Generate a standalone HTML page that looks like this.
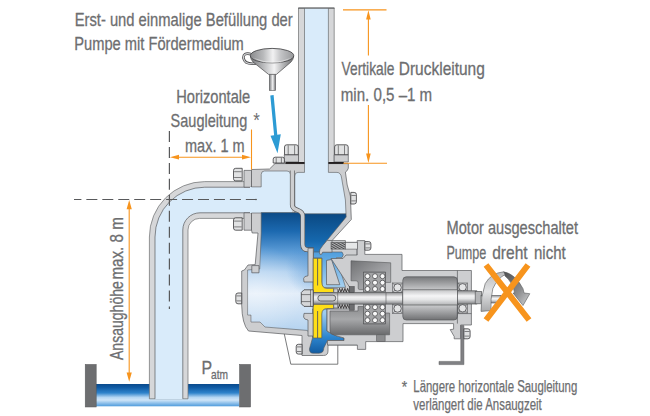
<!DOCTYPE html>
<html lang="de"><head><meta charset="utf-8"><title>Selbstansaugende Pumpe</title>
<style>
html,body{margin:0;padding:0;background:#fff;overflow:hidden}
svg{display:block}
text{font-family:"Liberation Sans",sans-serif;fill:#6d6e70}
.g{fill:#cdced0;stroke:#58595b;stroke-width:.7;stroke-linejoin:round}
.p{fill:#d6d7d9;stroke:#6d6e70;stroke-width:.7;stroke-linejoin:round}
.o{stroke:#f7941d;stroke-width:1.1;fill:none}
.of{fill:#f7941d}
.d{stroke:#58595b;stroke-width:1.2;fill:none;stroke-dasharray:11 4.95}
.air{fill:#d9ebfa}
</style></head><body>
<svg width="650" height="416" viewBox="0 0 650 416">
<defs>
<linearGradient id="wMain" x1="0" y1="212" x2="0" y2="332" gradientUnits="userSpaceOnUse">
<stop offset="0" stop-color="#0b4a86"/><stop offset=".16" stop-color="#1c69b0"/><stop offset=".33" stop-color="#5b9bd6"/><stop offset=".5" stop-color="#b3d2f0"/><stop offset=".68" stop-color="#e2edf9"/><stop offset="1" stop-color="#b3d2ef"/>
</linearGradient>
<radialGradient id="wMainH" cx="256" cy="292" r="48" gradientUnits="userSpaceOnUse">
<stop offset="0" stop-color="#ffffff" stop-opacity=".38"/><stop offset=".5" stop-color="#ffffff" stop-opacity=".18"/><stop offset="1" stop-color="#ffffff" stop-opacity="0"/>
</radialGradient>
<radialGradient id="wMainB" cx="316" cy="268" r="30" gradientUnits="userSpaceOnUse">
<stop offset="0" stop-color="#3f88cf" stop-opacity=".45"/><stop offset="1" stop-color="#3f88cf" stop-opacity="0"/>
</radialGradient>
<linearGradient id="wR" x1="0" y1="213" x2="0" y2="260" gradientUnits="userSpaceOnUse">
<stop offset="0" stop-color="#0a4882"/><stop offset=".6" stop-color="#1668ae"/><stop offset="1" stop-color="#3d93d8"/>
</linearGradient>
<linearGradient id="wBack" x1="0" y1="250" x2="0" y2="356" gradientUnits="userSpaceOnUse">
<stop offset="0" stop-color="#4a9bdc"/><stop offset=".35" stop-color="#a5d0f0"/><stop offset=".6" stop-color="#9ccbee"/><stop offset=".82" stop-color="#2e86cf"/><stop offset="1" stop-color="#0d5499"/>
</linearGradient>
<linearGradient id="wTank" x1="0" y1="384" x2="0" y2="406.3" gradientUnits="userSpaceOnUse">
<stop offset="0" stop-color="#0a4a8c"/><stop offset=".15" stop-color="#0f5aa3"/><stop offset=".4" stop-color="#2f83cb"/><stop offset=".6" stop-color="#b5d6f3"/><stop offset=".72" stop-color="#cfe5f8"/><stop offset="1" stop-color="#4f9bdc"/>
</linearGradient>
<linearGradient id="drum" x1="0" y1="276.8" x2="0" y2="320" gradientUnits="userSpaceOnUse">
<stop offset="0" stop-color="#77787a"/><stop offset=".3" stop-color="#c6c7c9"/><stop offset=".66" stop-color="#c9cacc"/><stop offset="1" stop-color="#707173"/>
</linearGradient>
<linearGradient id="shaft" x1="0" y1="0" x2="0" y2="1">
<stop offset="0" stop-color="#909193"/><stop offset=".38" stop-color="#f3f3f4"/><stop offset=".6" stop-color="#e4e5e6"/><stop offset="1" stop-color="#808184"/>
</linearGradient>
<linearGradient id="rotor" x1="0" y1="0" x2="0" y2="1">
<stop offset="0" stop-color="#c3c4c6"/><stop offset=".4" stop-color="#f5f5f6"/><stop offset=".65" stop-color="#e4e5e6"/><stop offset="1" stop-color="#b4b5b7"/>
</linearGradient>
<linearGradient id="chamber" x1="0" y1="0" x2="1" y2="1">
<stop offset="0" stop-color="#707173"/><stop offset=".55" stop-color="#9fa0a3"/><stop offset="1" stop-color="#b4b5b7"/>
</linearGradient>
<linearGradient id="chamber2" x1="0" y1="0" x2="0" y2="1">
<stop offset="0" stop-color="#8a8b8d"/><stop offset=".45" stop-color="#a7a8aa"/><stop offset="1" stop-color="#6a6b6d"/>
</linearGradient>
<pattern id="hatch" width="2" height="2" patternUnits="userSpaceOnUse" patternTransform="rotate(-60)">
<rect width="2" height="2" fill="#b4b5b7"/><rect width="1" height="2" fill="#4a4a4c"/>
</pattern>
<linearGradient id="funnel" x1="0" y1="0" x2="1" y2="0">
<stop offset="0" stop-color="#77787b"/><stop offset=".3" stop-color="#b9babc"/><stop offset=".55" stop-color="#f3f3f4"/><stop offset=".8" stop-color="#a6a7a9"/><stop offset="1" stop-color="#6d6e70"/>
</linearGradient>
<linearGradient id="funnelIn" x1="0" y1="0" x2="1" y2="0">
<stop offset="0" stop-color="#8a8b8d"/><stop offset=".3" stop-color="#b9babc"/><stop offset=".52" stop-color="#f1f1f2"/><stop offset=".7" stop-color="#c3c4c6"/><stop offset="1" stop-color="#97989a"/>
</linearGradient>
<linearGradient id="arrF" x1="0" y1="0" x2="0" y2="1">
<stop offset="0" stop-color="#b9babc"/><stop offset=".5" stop-color="#e2e3e4"/><stop offset="1" stop-color="#a8a9ab"/>
</linearGradient>
<linearGradient id="arrB" x1="0" y1="0" x2="1" y2="1">
<stop offset="0" stop-color="#4d4e50"/><stop offset=".6" stop-color="#8e8f91"/><stop offset="1" stop-color="#d4d5d6"/>
</linearGradient>
</defs>
<rect width="650" height="416" fill="#fff"/>

<!-- TANK -->
<g id="tank">
<rect x="96" y="384" width="143.5" height="22.3" fill="url(#wTank)"/>
<rect x="85.2" y="364.4" width="11" height="42.6" fill="#6d6e70" stroke="#58595b" stroke-width=".5"/>
<rect x="239.5" y="364.4" width="11.1" height="42.6" fill="#6d6e70" stroke="#58595b" stroke-width=".5"/>
</g>

<!-- SUCTION PIPE -->
<g id="suction">
<path class="p" d="M149.4,398.8 L149.4,237 A55.4,55.4 0 0 1 204.8,181.6 L252,181.6 L252,218.4 L199.5,218.4 A11.5,11.5 0 0 0 188,229.9 L188,398.8 Z"/>
<path class="air" d="M155,399.2 L155,237 A49.8,49.8 0 0 1 204.8,187.2 L262,187.2 L262,212.8 L200,212.8 A17.2,17.2 0 0 0 182.8,230 L182.8,399.2 Z"/>
<path d="M155,398.8 L155,237 A49.8,49.8 0 0 1 204.8,187.2 L252,187.2 M252,212.8 L200,212.8 A17.2,17.2 0 0 0 182.8,230 L182.8,398.8" fill="none" stroke="#58595b" stroke-width=".7"/>
</g>
<rect class="g" x="244" y="170.4" width="7.5" height="16.8"/>
<rect class="g" x="244" y="212.8" width="7.5" height="17.4"/>

<!-- DISCHARGE PIPE -->
<g id="discharge">
<rect class="p" x="298.5" y="8" width="35.7" height="155"/>
<rect class="g" x="284.3" y="154.7" width="14.2" height="7.3"/>
<rect class="g" x="334.2" y="154.7" width="14.1" height="7.3"/>
</g>

<!-- PUMP CASING -->
<g id="casing">
<!-- foot -->
<path d="M284.3,334 L290.8,364.2 L337.8,364.2 L337.8,345.2" fill="#fff" stroke="#58595b" stroke-width=".8"/>
<path class="g" d="M251.5,169.5 L269.5,169 L275,163.6 L348.3,163.6 L348.3,168.2 Q347.6,171 345.4,172 L347.2,185 L350.4,196 L351.3,219.5 L332,240.6 L345.4,240.6 L345.4,242.3 L357,242.3 L357,345 L328,345 L328,351 Q328,355.5 323.5,355.5 L302,355.5 L302,335.5 L248.5,331 Q242,324 241.7,305 L241.7,271 L244.4,270 L248,265 L255.2,264.6 L258,233 L252.2,233 L251.5,230 Z"/>
<!-- air spaces -->
<path class="air" d="M250,186.9 L261.2,186.9 L261.2,174.5 Q261.2,171 264.5,171 L287,171 Q291,171 291,174 L292,213 L250,213 Z"/>
<path class="air" d="M294.8,176 Q294.8,172.4 298,172.4 L304.5,172.4 L304.5,164 L328.4,164 L328.4,172.4 L337,172.4 Q341,172.6 341.6,178 L345.4,200 L346,214 L294.8,214 Z"/>
<rect class="air" x="304.5" y="8.4" width="23.9" height="156"/>
<g fill="none" stroke="#58595b" stroke-width=".6">
<path d="M251.5,186.9 L261.2,186.9 L261.2,174.5 Q261.2,171 264.5,171 L287,171 Q290.4,171 290.4,174"/>
<path d="M251.5,213 L261.4,213"/>
<path d="M294.8,213 L294.8,176 Q294.8,172.4 298,172.4 L304.5,172.4 L304.5,8.4"/>
<path d="M328.4,8.4 L328.4,172.4 L337,172.4 Q341,172.6 341.6,178 L345.4,200 L346,214"/>
</g>
<path d="M298.2,8.1 L334.5,8.1" stroke="#58595b" stroke-width="1" fill="none"/>
<rect x="285.5" y="162" width="19" height="1.9" fill="#231f20"/>
<rect x="328.4" y="162" width="15.4" height="1.9" fill="#231f20"/>
<!-- water main chamber -->
<path d="M261.2,212.6 L299,212.6 L303,218 L303,250 L313,250 L313,336 L307,330.4 L265,327 L260,322 L251,322 L251,315 L247.6,315 L247.6,270 L259.8,269 L261.2,233 Z" fill="url(#wMain)" stroke="#58595b" stroke-width=".6"/>
<path d="M261.2,234 L303,234 L303,250 L313,250 L313,336 L307,330.4 L265,327 L260,322 L251,322 L251,315 L247.6,315 L247.6,270 L259.8,269 Z" fill="url(#wMainH)"/>
<path d="M280,234 L303,234 L303,250 L313,250 L313,300 L280,300 Z" fill="url(#wMainB)"/>
<rect class="g" x="251.8" y="265.6" width="7.2" height="7.2"/>
<!-- water right chamber -->
<path d="M303,213.8 L346,213.8 L346.2,217 L326.8,240.6 L323,247 L322,259 L313.5,259 L313.5,248 L303,248 Z" fill="url(#wR)" stroke="#58595b" stroke-width=".6"/>
<!-- back cavity -->
<path d="M313.5,252 L342,252 Q344.6,254.8 342,257.6 L336.5,257.6 L345.6,287.4 L321.8,287.4 L321.8,258 L313.5,258 Z" fill="url(#wBack)" stroke="#58595b" stroke-width=".6"/>
<path d="M321.4,309 L327,309 L327,331 Q334,336 344,338 L344,340.5 L327.5,340.5 L323.8,348 Q323.8,353.2 319,353.2 L313,353.2 Q309.4,353.2 309.4,349 L312.5,338 L312.5,309 Z" fill="url(#wBack)" stroke="#58595b" stroke-width=".6"/>
<path class="g" d="M326.5,260.4 L331.5,259.5 L339.8,284.7 L326.5,284.7 Z"/>
<path class="g" d="M327.2,240.3 Q322,246 320,249.4 Q318.6,252.6 320.2,254.6 Q322,255 322.6,252.2 L332,252.2 L332,240.6 Z"/>
<!-- divider wall -->
<path d="M292.3,170.5 L292.3,205 C292.3,212 302.7,208 302.7,216 L302.7,244 Q302.7,249.8 308,249.8 L313.6,249.8" fill="none" stroke="#58595b" stroke-width="4.8"/>
<path d="M292.3,170 L292.3,205 C292.3,212 302.7,208 302.7,216 L302.7,244 Q302.7,249.8 308,249.8 L313.2,249.8" fill="none" stroke="#cdced0" stroke-width="3.5"/>
<!-- front wall with lips -->
<path class="g" d="M308,248.2 L313.3,248.2 L313.3,282 L304,282 L303.6,278.5 Q304,276 308,275.8 Z"/>
<path class="g" d="M308,336 L313.3,336 L313.3,313.4 L304,313.4 L303.6,317 Q304,319.6 308,320 Z"/>
</g>

<!-- IMPELLER -->
<g id="impeller" fill="#ffde17" stroke="#58595b" stroke-width=".7">
<path d="M313.2,258.3 L321.8,258.3 L321.8,282 Q322,288.4 327,288.4 L333.7,288.4 L333.7,292.6 L313.2,292.6 Z"/>
<path d="M313.2,304.2 L333.7,304.2 L333.7,308.6 L327,308.6 Q322,308.6 321.8,314 L321.8,338 L313.2,338 Z"/>
<path d="M317.6,258.3 L317.6,285.5 M317.6,311 L317.6,338" stroke-width=".9" fill="none"/>
</g>

<!-- BRACKET / BEARING HOUSING -->
<g id="bracket">
<path class="g" d="M331,258.5 L343,258.5 L346,255 L357.2,255 L357.2,240.6 L364.8,240.6 L364.8,254.4 L402,254.4 L402,270.5 L471.4,270.5 L471.4,325 L460.6,325 L460.6,338.8 L454.2,338.8 L454.2,336.5 L450.2,329.6 L453.6,329.2 L453.6,323.6 L403,323.6 L403,341.6 L365.7,341.6 L365.7,349.4 L357.4,349.4 L357.4,345 L327.5,345 L327.5,340.5 L344,340.5 L344,338 Q334,336 327,331 L327,309 L349.5,309 L349.5,287 Z"/>
<!-- dark chambers -->
<path d="M351,260.8 L390.7,262.8 L390.7,282.4 L385.4,282.4 L385.4,272.2 L363.6,272.2 L363.6,289.6 L359.6,289.6 Q358.2,289.6 358.2,288 L358.2,283 Q358.2,280.8 356,280.8 L351,280.8 Z" fill="url(#chamber)" stroke="#58595b" stroke-width=".6"/>
<path d="M330,311 L358,311 L358,306.5 L363.6,306.5 L363.6,323.8 L385.4,323.8 L385.4,313 L389.6,313 L389.6,334.8 L334,334.8 Q330,334.8 330,331 Z" fill="url(#chamber2)" stroke="#58595b" stroke-width=".6"/>
<rect x="376.7" y="334.8" width="8.4" height="6.8" fill="#8b8c8e" stroke="#58595b" stroke-width=".6"/>
<!-- ball grids -->
<rect x="363.6" y="272.2" width="21.8" height="19.8" fill="#a4a5a7" stroke="#58595b" stroke-width=".7"/>
<rect x="363.6" y="304.2" width="21.8" height="19.6" fill="#a4a5a7" stroke="#58595b" stroke-width=".7"/>
<g fill="#fafafa" stroke="#4a4a4c" stroke-width=".8">
<circle cx="367.5" cy="276.2" r="2.5"/>
<circle cx="375" cy="276.2" r="2.5"/>
<circle cx="382.5" cy="276.2" r="2.5"/>
<circle cx="367.5" cy="282.7" r="2.5"/>
<circle cx="375" cy="282.7" r="2.5"/>
<circle cx="382.5" cy="282.7" r="2.5"/>
<circle cx="367.5" cy="289.0" r="2.5"/>
<circle cx="375" cy="289.0" r="2.5"/>
<circle cx="382.5" cy="289.0" r="2.5"/>
<circle cx="367.5" cy="307.2" r="2.5"/>
<circle cx="375" cy="307.2" r="2.5"/>
<circle cx="382.5" cy="307.2" r="2.5"/>
<circle cx="367.5" cy="313.7" r="2.5"/>
<circle cx="375" cy="313.7" r="2.5"/>
<circle cx="382.5" cy="313.7" r="2.5"/>
<circle cx="367.5" cy="320.2" r="2.5"/>
<circle cx="375" cy="320.2" r="2.5"/>
<circle cx="382.5" cy="320.2" r="2.5"/>
</g>
<!-- motor drum -->
<rect x="402.8" y="276.8" width="54.6" height="43.2" rx="3.5" fill="url(#drum)" stroke="#58595b" stroke-width=".7"/>
<path d="M457.4,270.5 L457.4,323.6 M457.4,313.6 L471.4,313.6" stroke="#58595b" stroke-width=".7" fill="none"/>
<!-- bearings -->
<g fill="#c9cacc" stroke="#58595b" stroke-width=".6">
<rect x="392.6" y="283" width="10" height="9.4"/><rect x="392.6" y="304" width="10" height="9.4"/>
<rect x="458" y="283" width="9.6" height="8"/><rect x="458" y="304" width="9.6" height="9"/>
</g>
<path d="M392.6,283 l10,9.4 m0,-9.4 l-10,9.4 M392.6,304 l10,9.4 m0,-9.4 l-10,9.4 M458,283 l9.6,8 m0,-8 l-9.6,8 M458,304 l9.6,9 m0,-9 l-9.6,9" stroke="#58595b" stroke-width=".6" fill="none"/>
<g fill="#e4e5e6" stroke="#3b3b3d" stroke-width=".7">
<circle cx="397.6" cy="287.5" r="3.7"/><circle cx="397.6" cy="308.5" r="3.7"/>
<circle cx="462.6" cy="287.3" r="3.7"/><circle cx="462.6" cy="308.3" r="3.7"/>
</g>
</g>

<!-- SHAFT -->
<g id="shaftg">
<rect x="313.2" y="292.6" width="89.6" height="11.5" fill="url(#shaft)" stroke="#58595b" stroke-width=".7"/>
<rect x="402.8" y="289.8" width="54.6" height="15.2" fill="url(#rotor)" stroke="#58595b" stroke-width=".7"/>
<rect x="457.4" y="290.8" width="19.4" height="13.2" fill="url(#shaft)" stroke="#58595b" stroke-width=".7"/>
<path d="M337.7,292.6 L337.7,304.2 M386,292.6 L386,304.1" stroke="#58595b" stroke-width=".6" fill="none"/>
<rect x="475.2" y="291.4" width="6.4" height="12.4" fill="#b4b5b7" stroke="#58595b" stroke-width=".7"/>
<rect x="481" y="295.4" width="20" height="7.6" fill="url(#shaft)" stroke="#58595b" stroke-width=".6"/>
<!-- seal seats -->
<rect class="g" x="333.7" y="288.8" width="4" height="3.8"/>
<rect class="g" x="333.7" y="304.2" width="4" height="3.8"/>
<!-- seal springs -->
<path d="M338.2,292.2 l1.35,-3.8 l1.35,3.8 l1.35,-3.8 l1.35,3.8 l1.35,-3.8 l1.35,3.8 l1.35,-3.8 l1.35,3.8" fill="none" stroke="#231f20" stroke-width=".8"/>
<path d="M338.2,308.4 l1.35,-3.8 l1.35,3.8 l1.35,-3.8 l1.35,3.8 l1.35,-3.8 l1.35,3.8 l1.35,-3.8 l1.35,3.8" fill="none" stroke="#231f20" stroke-width=".8"/>
<rect x="349.6" y="286.6" width="4.6" height="6" fill="#6d6e70" stroke="#3b3b3d" stroke-width=".5"/>
<rect x="349.6" y="304.2" width="4.6" height="6" fill="#6d6e70" stroke="#3b3b3d" stroke-width=".5"/>
<!-- nut -->
<path d="M313.2,289.8 L304,289.8 L301.3,292.5 L301.3,303.7 L304,306.4 L313.2,306.4 Z" fill="#d5d6d8" stroke="#3b3b3d" stroke-width=".8"/>
<path d="M310.6,289.8 L310.6,306.4 M301.3,294.6 L310.6,294.6 M301.3,301.6 L310.6,301.6" stroke="#3b3b3d" stroke-width=".6" fill="none"/>
<!-- keyway -->
<rect x="317.8" y="295.2" width="18" height="5.8" rx="2.9" fill="#cfd0d2" stroke="#3b3b3d" stroke-width=".7"/>
</g>

<!-- STUD top -->
<g id="stud">
<rect x="331" y="242.3" width="14.4" height="6.8" fill="url(#hatch)" stroke="#58595b" stroke-width=".6"/>
<rect x="345.4" y="242.3" width="12" height="6.8" fill="#e6e7e8" stroke="#58595b" stroke-width=".6"/>
</g>

<!-- BRACKET SUPPORT -->
<path d="M460.8,325.6 L463.9,325.6 L463.9,364.6 L439,364.6 L439,361.4 L460.8,361.4 Z" fill="#808184" stroke="#58595b" stroke-width=".5"/>

<!-- BOLTS -->
<g id="bolts" fill="#e1e2e3" stroke="#3b3b3d" stroke-width=".8">
<path d="M242.2,168.3 L235.7,168.3 Q233.5,168.3 233.5,170.5 L233.5,178.7 Q233.5,180.9 235.7,180.9 L242.2,180.9 Z"/><path d="M234.1,171.7 L241.6,171.7 M234.1,177.5 L241.6,177.5" fill="none" stroke-width=".6"/>
<path d="M242.2,217.8 L235.7,217.8 Q233.5,217.8 233.5,220 L233.5,228 Q233.5,230.2 235.7,230.2 L242.2,230.2 Z"/><path d="M234.1,221.1 L241.6,221.1 M234.1,226.9 L241.6,226.9" fill="none" stroke-width=".6"/>
<path d="M284.5,154.7 L284.5,147 Q284.5,144.8 286.7,144.8 L296.1,144.8 Q298.3,144.8 298.3,147 L298.3,154.7 Z"/><path d="M288.2,145.4 L288.2,154.7 M294.6,145.4 L294.6,154.7" fill="none" stroke-width=".6"/>
<path d="M334.6,154.7 L334.6,147 Q334.6,144.8 336.8,144.8 L346,144.8 Q348.2,144.8 348.2,147 L348.2,154.7 Z"/><path d="M338.3,145.4 L338.3,154.7 M344.5,145.4 L344.5,154.7" fill="none" stroke-width=".6"/>
<path d="M273.2,163 L273.2,159.2 Q273.2,157.2 275.2,157.2 L282.4,157.2 Q284.4,157.2 284.4,159.2 L284.4,163 Z"/><path d="M276.2,157.8 L276.2,163 M281.4,157.8 L281.4,163" fill="none" stroke-width=".6"/>
<path d="M350.8,192.4 L354.2,192.4 Q356.4,192.4 356.4,194.6 L356.4,201.8 Q356.4,204 354.2,204 L350.8,204 Z"/><path d="M351.4,195.5 L355.8,195.5 M351.4,200.9 L355.8,200.9" fill="none" stroke-width=".6"/>
<path d="M302,344.3 L298.4,344.3 Q296.2,344.3 296.2,346.5 L296.2,351.9 Q296.2,354.1 298.4,354.1 L302,354.1 Z"/><path d="M296.8,346.9 L301.4,346.9 M296.8,351.5 L301.4,351.5" fill="none" stroke-width=".6"/>
<path d="M241.7,293 L238,293 Q235.8,293 235.8,295.2 L235.8,301.6 Q235.8,303.8 238,303.8 L241.7,303.8 Z"/><path d="M236.4,295.9 L241.1,295.9 M236.4,300.9 L241.1,300.9" fill="none" stroke-width=".6"/>
<path d="M364.9,241.6 L368.7,241.6 Q370.9,241.6 370.9,243.8 L370.9,248 Q370.9,250.2 368.7,250.2 L364.9,250.2 Z"/><path d="M365.5,243.9 L370.3,243.9 M365.5,247.9 L370.3,247.9" fill="none" stroke-width=".6"/>
<path d="M463.9,328.8 L467.9,328.8 Q470.1,328.8 470.1,331 L470.1,336.6 Q470.1,338.8 467.9,338.8 L463.9,338.8 Z"/><path d="M464.5,331.5 L469.5,331.5 M464.5,336.1 L469.5,336.1" fill="none" stroke-width=".6"/>
</g>

<!-- FUNNEL -->
<g id="funnelg">
<path d="M251.5,54.2 Q242.6,52 243.6,58.6 Q244.8,64.6 255,63.6" fill="none" stroke="#4a4a4c" stroke-width="2.6" stroke-linecap="round"/>
<path d="M251.5,54.2 Q242.6,52 243.6,58.6 Q244.8,64.6 255,63.6" fill="none" stroke="#d0d1d3" stroke-width="1.1" stroke-linecap="round"/>
<rect x="269.3" y="72" width="6.3" height="18.5" fill="url(#funnel)" stroke="#58595b" stroke-width=".6"/>
<path d="M250.4,56 L293.7,56 Q293.4,59.5 291,62 L276.4,74.4 L268.6,74.4 L253,62 Q250.6,59.5 250.4,56 Z" fill="url(#funnel)" stroke="#4a4a4c" stroke-width=".7"/>
<ellipse cx="272.05" cy="55.7" rx="21.7" ry="7.3" fill="url(#funnelIn)" stroke="#4a4a4c" stroke-width=".9"/>
<path d="M252.6,57.5 Q272,70 291.6,57.5 Q272,66 252.6,57.5 Z" fill="#ffffff" fill-opacity=".45"/>
</g>

<!-- BLUE ARROW -->
<path d="M270.3,95.4 L273.6,95.1 L277.3,134.7 L280.8,134.2 L277.5,153.2 L270.5,135.7 L274.1,135.2 Z" fill="#2c9bd4"/>

<!-- DASHED LINES -->
<path class="d" d="M74,199.5 L258,199.5" stroke-dashoffset="3.6"/>
<path class="d" d="M169.4,131 L169.4,309"/>

<!-- ORANGE DIMENSIONS -->
<g id="dims">
<path class="o" d="M251.5,129.5 L251.5,169.6"/>
<path class="o" d="M175,157.2 L246,157.2"/>
<path class="of" d="M169.9,157.2 L179,154.8 L179,159.6 Z M251,157.2 L242,154.8 L242,159.6 Z"/>
<path class="o" d="M343,9.9 L386.5,9.9 M343.4,163.2 L387,163.2"/>
<path class="o" d="M368.4,16 L368.4,55.5 M368.4,105 L368.4,157"/>
<path class="of" d="M368.4,10.3 L366.1,19.4 L370.7,19.4 Z M368.4,162.9 L366.1,153.6 L370.7,153.6 Z"/>
<path class="o" d="M129.2,206 L129.2,376"/>
<path class="of" d="M129.2,200 L126.6,209.2 L131.8,209.2 Z M129.2,381.8 L126.6,372.6 L131.8,372.6 Z"/>
</g>

<!-- ROTATION ARROW + CROSS -->
<g id="rot">
<path d="M503.7,271.8 Q515.5,274 523,288.7 L524,293 L529.8,293.7 L523,305.5 L513,293 L514.7,293 Q512.5,282 505,276 Z" fill="url(#arrB)" stroke="#58595b" stroke-width=".6"/>
<path d="M481,311.4 Q480.5,297 485.2,283.6 Q491,273 503.7,271.8 L505,274.5 Q497.5,278.6 492.8,288.7 Q490.3,299 491,310.6 Z" fill="url(#arrF)" stroke="#58595b" stroke-width=".6"/>
<path d="M486,265 L529,320 M528,265 L486,320" stroke="#f7941d" stroke-width="6" fill="none"/>
</g>

<!-- TEXT -->
<g font-size="18.6" stroke="#6d6e70" stroke-width=".3">
<text x="74.7" y="25.6" textLength="218" lengthAdjust="spacingAndGlyphs">Erst- und einmalige Befüllung der</text>
<text x="74.3" y="50" textLength="169.5" lengthAdjust="spacingAndGlyphs">Pumpe mit Fördermedium</text>
<text x="176.2" y="102.6" textLength="74" lengthAdjust="spacingAndGlyphs">Horizontale</text>
<text x="170.6" y="127.4" textLength="76.6" lengthAdjust="spacingAndGlyphs">Saugleitung</text>
<text x="253.2" y="126.6" font-size="19.5" stroke-width="0" textLength="6.6" lengthAdjust="spacingAndGlyphs">*</text>
<text x="185" y="152" textLength="59.6" lengthAdjust="spacingAndGlyphs">max. 1 m</text>
<text y="75.4"><tspan x="341.6" textLength="52.8" lengthAdjust="spacingAndGlyphs">Vertikale</tspan><tspan x="398.8" textLength="86" lengthAdjust="spacingAndGlyphs">Druckleitung</tspan></text>
<text x="340.8" y="101" textLength="91.4" lengthAdjust="spacingAndGlyphs">min. 0,5 –1 m</text>
<text x="446.6" y="234" textLength="131.4" lengthAdjust="spacingAndGlyphs">Motor ausgeschaltet</text>
<text y="258.7"><tspan x="446.4" textLength="40" lengthAdjust="spacingAndGlyphs">Pumpe</tspan><tspan x="492.2" textLength="35.4" lengthAdjust="spacingAndGlyphs">dreht</tspan><tspan x="534" textLength="31.8" lengthAdjust="spacingAndGlyphs">nicht</tspan></text>
<text transform="translate(123,360) rotate(-90)"><tspan x="0" textLength="78.8" lengthAdjust="spacingAndGlyphs">Ansaughöhe</tspan><tspan x="80.4" textLength="62.4" lengthAdjust="spacingAndGlyphs">max. 8 m</tspan></text>
<text x="201.4" y="373.8" textLength="10.6" lengthAdjust="spacingAndGlyphs">P</text>
<text x="211" y="378.6" font-size="13" textLength="17" lengthAdjust="spacingAndGlyphs">atm</text>
</g>
<g font-size="15.6" stroke="#6d6e70" stroke-width=".25">
<text x="401.7" y="393.2" textLength="5.4" lengthAdjust="spacingAndGlyphs">*</text>
<text x="413.3" y="391.7" textLength="164" lengthAdjust="spacingAndGlyphs">Längere horizontale Saugleitung</text>
<text x="413.3" y="409.6" textLength="128.5" lengthAdjust="spacingAndGlyphs">verlängert die Ansaugzeit</text>
</g>
</svg>
</body></html>
